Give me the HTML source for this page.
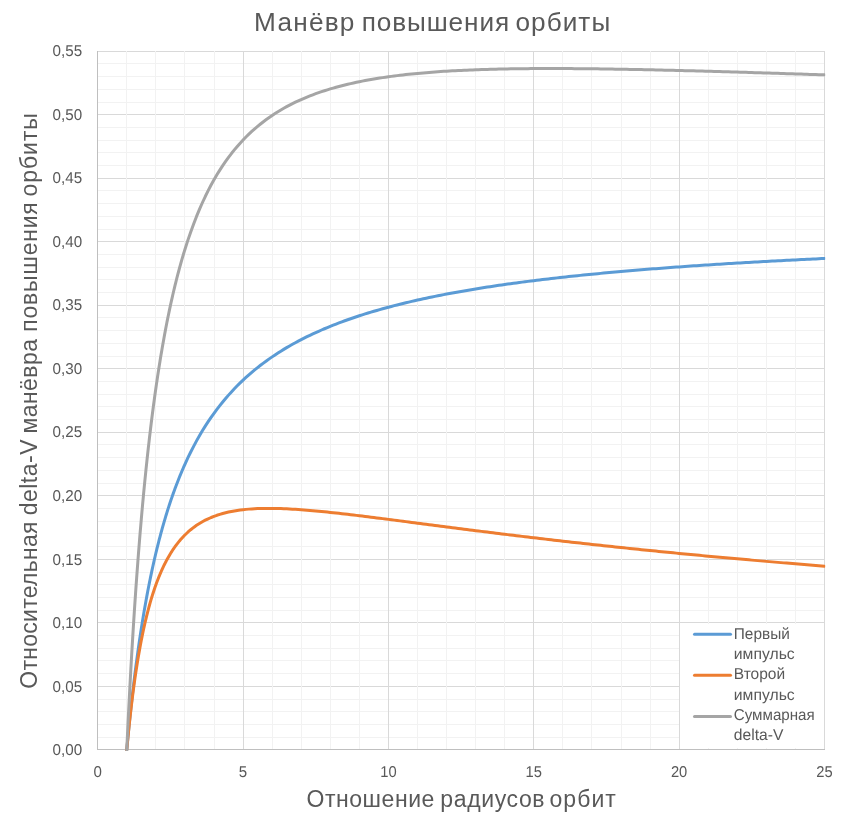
<!DOCTYPE html>
<html><head><meta charset="utf-8"><title>chart</title>
<style>
html,body{margin:0;padding:0;background:#fff;}
body{width:848px;height:816px;overflow:hidden;}
svg{display:block;}
svg{will-change:transform;}
text{font-family:"Liberation Sans",sans-serif;fill:#595959;}
.tick text{font-size:15.7px;text-rendering:geometricPrecision;}
.leg text{font-size:15.8px;text-rendering:geometricPrecision;}
.ser{fill:none;stroke-width:3;stroke-linecap:round;stroke-linejoin:round;}
</style></head><body>
<svg width="848" height="816" viewBox="0 0 848 816">
<rect width="848" height="816" fill="#ffffff"/>
<g fill="none" stroke-width="1" shape-rendering="crispEdges"><path d="M97.0,737.5H825.0M97.0,724.5H825.0M97.0,711.5H825.0M97.0,699.5H825.0M97.0,673.5H825.0M97.0,660.5H825.0M97.0,648.5H825.0M97.0,635.5H825.0M97.0,610.5H825.0M97.0,597.5H825.0M97.0,584.5H825.0M97.0,572.5H825.0M97.0,546.5H825.0M97.0,533.5H825.0M97.0,521.5H825.0M97.0,508.5H825.0M97.0,483.5H825.0M97.0,470.5H825.0M97.0,457.5H825.0M97.0,444.5H825.0M97.0,419.5H825.0M97.0,406.5H825.0M97.0,394.5H825.0M97.0,381.5H825.0M97.0,356.5H825.0M97.0,343.5H825.0M97.0,330.5H825.0M97.0,317.5H825.0M97.0,292.5H825.0M97.0,279.5H825.0M97.0,267.5H825.0M97.0,254.5H825.0M97.0,229.5H825.0M97.0,216.5H825.0M97.0,203.5H825.0M97.0,190.5H825.0M97.0,165.5H825.0M97.0,152.5H825.0M97.0,140.5H825.0M97.0,127.5H825.0M97.0,102.5H825.0M97.0,89.5H825.0M97.0,76.5H825.0M97.0,63.5H825.0" stroke="#f2f2f2"/><path d="M97.0,749.5H825.0M97.0,686.5H825.0M97.0,622.5H825.0M97.0,559.5H825.0M97.0,495.5H825.0M97.0,432.5H825.0M97.0,368.5H825.0M97.0,305.5H825.0M97.0,241.5H825.0M97.0,178.5H825.0M97.0,114.5H825.0M97.0,51.5H825.0" stroke="#d9d9d9"/><path d="M97.5,51.0V750.0M243.5,51.0V750.0M388.5,51.0V750.0M533.5,51.0V750.0M679.5,51.0V750.0M824.5,51.0V750.0" stroke="#d9d9d9"/><path d="M126.5,51.0V750.0M155.5,51.0V750.0M184.5,51.0V750.0M214.5,51.0V750.0M272.5,51.0V750.0M301.5,51.0V750.0M330.5,51.0V750.0M359.5,51.0V750.0M417.5,51.0V750.0M446.5,51.0V750.0M475.5,51.0V750.0M504.5,51.0V750.0M562.5,51.0V750.0M591.5,51.0V750.0M621.5,51.0V750.0M650.5,51.0V750.0M708.5,51.0V750.0M737.5,51.0V750.0M766.5,51.0V750.0M795.5,51.0V750.0" stroke="#f2f2f2"/><path d="M97.5,51.0V750.0" stroke="#bfbfbf"/><path d="M97.0,749.5H825.0" stroke="#bfbfbf"/></g>
<rect x="680" y="624" width="144" height="124" fill="#ffffff" shape-rendering="crispEdges"/>
<clipPath id="pc"><rect x="96" y="49" width="729.2" height="702"/></clipPath>
<g clip-path="url(#pc)">
<path class="ser" stroke="#5b9bd5" d="M126.77,749.81 L127.35,743.54 L127.93,737.42 L128.52,731.44 L129.10,725.61 L129.68,719.91 L130.26,714.35 L130.84,708.91 L131.42,703.60 L132.00,698.40 L132.59,693.32 L133.17,688.35 L133.75,683.48 L134.33,678.72 L134.91,674.06 L135.49,669.50 L136.07,665.03 L136.66,660.65 L137.24,656.35 L137.82,652.15 L138.40,648.02 L138.98,643.98 L139.56,640.01 L140.14,636.12 L140.73,632.30 L141.31,628.56 L141.89,624.88 L142.47,621.27 L143.05,617.73 L143.63,614.25 L144.21,610.83 L144.80,607.47 L145.38,604.17 L145.96,600.93 L146.54,597.74 L147.12,594.61 L147.70,591.53 L148.28,588.50 L148.87,585.52 L149.45,582.59 L150.03,579.71 L150.61,576.88 L151.19,574.09 L151.77,571.34 L152.35,568.64 L152.94,565.98 L153.52,563.36 L154.10,560.78 L154.68,558.24 L155.26,555.74 L155.84,553.28 L156.42,550.85 L157.01,548.46 L157.59,546.11 L158.17,543.78 L158.75,541.50 L159.33,539.24 L159.91,537.02 L160.49,534.83 L161.08,532.66 L161.66,530.53 L162.24,528.43 L162.82,526.36 L163.40,524.32 L163.98,522.30 L164.56,520.31 L165.15,518.35 L165.73,516.41 L166.31,514.50 L166.89,512.61 L167.47,510.75 L168.05,508.91 L168.63,507.10 L169.22,505.31 L169.80,503.54 L170.38,501.79 L170.96,500.07 L171.54,498.36 L172.12,496.68 L172.70,495.02 L173.29,493.38 L173.87,491.76 L174.45,490.16 L175.03,488.57 L175.61,487.01 L176.19,485.46 L176.77,483.94 L177.36,482.43 L177.94,480.94 L178.52,479.46 L179.10,478.00 L179.68,476.56 L180.26,475.14 L180.84,473.73 L181.43,472.34 L182.01,470.96 L182.59,469.60 L183.17,468.25 L183.75,466.92 L184.33,465.60 L184.91,464.29 L187.82,457.98 L190.73,451.99 L193.64,446.31 L196.54,440.90 L199.45,435.74 L202.36,430.83 L205.26,426.14 L208.17,421.66 L211.08,417.37 L213.99,413.27 L216.89,409.33 L219.80,405.56 L222.71,401.94 L225.61,398.46 L228.52,395.11 L231.43,391.89 L234.34,388.79 L237.24,385.80 L240.15,382.91 L243.06,380.13 L245.96,377.44 L248.87,374.85 L251.78,372.34 L254.69,369.91 L257.59,367.56 L260.50,365.29 L263.41,363.08 L266.31,360.95 L269.22,358.88 L272.13,356.87 L275.04,354.91 L277.94,353.02 L280.85,351.18 L283.76,349.39 L286.66,347.65 L289.57,345.96 L292.48,344.31 L295.39,342.71 L298.29,341.15 L301.20,339.63 L304.11,338.15 L307.01,336.70 L309.92,335.30 L312.83,333.92 L315.74,332.58 L318.64,331.27 L321.55,330.00 L324.46,328.75 L327.36,327.53 L330.27,326.34 L333.18,325.18 L336.09,324.04 L338.99,322.93 L341.90,321.84 L344.81,320.78 L347.71,319.74 L350.62,318.72 L353.53,317.72 L356.44,316.75 L359.34,315.79 L362.25,314.85 L365.16,313.93 L368.06,313.03 L370.97,312.15 L373.88,311.29 L376.79,310.44 L379.69,309.61 L382.60,308.79 L385.51,307.99 L388.41,307.20 L391.32,306.43 L394.23,305.67 L397.14,304.93 L400.04,304.20 L402.95,303.48 L405.86,302.78 L408.76,302.09 L411.67,301.41 L414.58,300.74 L417.49,300.08 L420.39,299.43 L423.30,298.80 L426.21,298.17 L429.11,297.56 L432.02,296.96 L434.93,296.36 L437.84,295.78 L440.74,295.20 L443.65,294.63 L446.56,294.08 L449.46,293.53 L452.37,292.99 L455.28,292.45 L458.19,291.93 L461.09,291.41 L464.00,290.91 L466.91,290.41 L469.81,289.91 L472.72,289.43 L475.63,288.95 L478.54,288.47 L481.44,288.01 L484.35,287.55 L487.26,287.10 L490.16,286.65 L493.07,286.21 L495.98,285.78 L498.89,285.35 L501.79,284.93 L504.70,284.51 L507.61,284.10 L510.51,283.70 L513.42,283.30 L516.33,282.90 L519.24,282.51 L522.14,282.13 L525.05,281.75 L527.96,281.38 L530.86,281.01 L533.77,280.64 L536.68,280.28 L539.59,279.93 L542.49,279.58 L545.40,279.23 L548.31,278.89 L551.21,278.55 L554.12,278.21 L557.03,277.88 L559.94,277.56 L562.84,277.24 L565.75,276.92 L568.66,276.60 L571.56,276.29 L574.47,275.98 L577.38,275.68 L580.29,275.38 L583.19,275.08 L586.10,274.79 L589.01,274.50 L591.91,274.21 L594.82,273.93 L597.73,273.65 L600.64,273.37 L603.54,273.10 L606.45,272.82 L609.36,272.56 L612.26,272.29 L615.17,272.03 L618.08,271.77 L620.99,271.51 L623.89,271.26 L626.80,271.01 L629.71,270.76 L632.61,270.51 L635.52,270.27 L638.43,270.03 L641.34,269.79 L644.24,269.55 L647.15,269.32 L650.06,269.08 L652.96,268.86 L655.87,268.63 L658.78,268.40 L661.69,268.18 L664.59,267.96 L667.50,267.74 L670.41,267.53 L673.31,267.31 L676.22,267.10 L679.13,266.89 L682.04,266.68 L684.94,266.48 L687.85,266.27 L690.76,266.07 L693.66,265.87 L696.57,265.67 L699.48,265.48 L702.39,265.28 L705.29,265.09 L708.20,264.90 L711.11,264.71 L714.01,264.52 L716.92,264.34 L719.83,264.15 L722.74,263.97 L725.64,263.79 L728.55,263.61 L731.46,263.43 L734.36,263.26 L737.27,263.08 L740.18,262.91 L743.09,262.74 L745.99,262.57 L748.90,262.40 L751.81,262.23 L754.71,262.07 L757.62,261.90 L760.53,261.74 L763.44,261.58 L766.34,261.42 L769.25,261.26 L772.16,261.10 L775.06,260.95 L777.97,260.79 L780.88,260.64 L783.79,260.49 L786.69,260.34 L789.60,260.19 L792.51,260.04 L795.41,259.89 L798.32,259.75 L801.23,259.60 L804.14,259.46 L807.04,259.31 L809.95,259.17 L812.86,259.03 L815.76,258.89 L818.67,258.76 L821.58,258.62 L824.49,258.48"/>
<path class="ser" stroke="#ed7d31" d="M126.77,749.81 L127.35,743.57 L127.93,737.54 L128.52,731.71 L129.10,726.07 L129.68,720.62 L130.26,715.34 L130.84,710.23 L131.42,705.28 L132.00,700.49 L132.59,695.84 L133.17,691.33 L133.75,686.96 L134.33,682.72 L134.91,678.60 L135.49,674.61 L136.07,670.72 L136.66,666.95 L137.24,663.29 L137.82,659.72 L138.40,656.26 L138.98,652.89 L139.56,649.62 L140.14,646.43 L140.73,643.32 L141.31,640.30 L141.89,637.36 L142.47,634.49 L143.05,631.70 L143.63,628.98 L144.21,626.33 L144.80,623.75 L145.38,621.23 L145.96,618.78 L146.54,616.38 L147.12,614.05 L147.70,611.77 L148.28,609.54 L148.87,607.37 L149.45,605.25 L150.03,603.19 L150.61,601.17 L151.19,599.20 L151.77,597.27 L152.35,595.39 L152.94,593.55 L153.52,591.75 L154.10,590.00 L154.68,588.28 L155.26,586.61 L155.84,584.97 L156.42,583.36 L157.01,581.80 L157.59,580.27 L158.17,578.77 L158.75,577.30 L159.33,575.87 L159.91,574.46 L160.49,573.09 L161.08,571.75 L161.66,570.43 L162.24,569.15 L162.82,567.89 L163.40,566.65 L163.98,565.45 L164.56,564.26 L165.15,563.11 L165.73,561.97 L166.31,560.86 L166.89,559.78 L167.47,558.71 L168.05,557.67 L168.63,556.65 L169.22,555.65 L169.80,554.67 L170.38,553.71 L170.96,552.76 L171.54,551.84 L172.12,550.94 L172.70,550.05 L173.29,549.18 L173.87,548.33 L174.45,547.50 L175.03,546.68 L175.61,545.88 L176.19,545.09 L176.77,544.32 L177.36,543.57 L177.94,542.83 L178.52,542.10 L179.10,541.39 L179.68,540.69 L180.26,540.01 L180.84,539.33 L181.43,538.68 L182.01,538.03 L182.59,537.40 L183.17,536.78 L183.75,536.17 L184.33,535.57 L184.91,534.98 L187.82,532.22 L190.73,529.70 L193.64,527.42 L196.54,525.34 L199.45,523.46 L202.36,521.74 L205.26,520.19 L208.17,518.78 L211.08,517.50 L213.99,516.35 L216.89,515.30 L219.80,514.36 L222.71,513.51 L225.61,512.75 L228.52,512.07 L231.43,511.47 L234.34,510.93 L237.24,510.46 L240.15,510.04 L243.06,509.69 L245.96,509.38 L248.87,509.12 L251.78,508.90 L254.69,508.73 L257.59,508.59 L260.50,508.49 L263.41,508.42 L266.31,508.38 L269.22,508.38 L272.13,508.40 L275.04,508.44 L277.94,508.51 L280.85,508.60 L283.76,508.71 L286.66,508.83 L289.57,508.98 L292.48,509.15 L295.39,509.33 L298.29,509.52 L301.20,509.73 L304.11,509.95 L307.01,510.18 L309.92,510.42 L312.83,510.68 L315.74,510.94 L318.64,511.22 L321.55,511.50 L324.46,511.79 L327.36,512.08 L330.27,512.39 L333.18,512.70 L336.09,513.02 L338.99,513.34 L341.90,513.67 L344.81,514.00 L347.71,514.34 L350.62,514.68 L353.53,515.02 L356.44,515.37 L359.34,515.72 L362.25,516.08 L365.16,516.44 L368.06,516.80 L370.97,517.16 L373.88,517.52 L376.79,517.89 L379.69,518.26 L382.60,518.63 L385.51,519.00 L388.41,519.37 L391.32,519.75 L394.23,520.12 L397.14,520.50 L400.04,520.88 L402.95,521.25 L405.86,521.63 L408.76,522.01 L411.67,522.39 L414.58,522.77 L417.49,523.15 L420.39,523.52 L423.30,523.90 L426.21,524.28 L429.11,524.66 L432.02,525.04 L434.93,525.42 L437.84,525.79 L440.74,526.17 L443.65,526.55 L446.56,526.92 L449.46,527.30 L452.37,527.67 L455.28,528.04 L458.19,528.42 L461.09,528.79 L464.00,529.16 L466.91,529.53 L469.81,529.90 L472.72,530.27 L475.63,530.64 L478.54,531.01 L481.44,531.37 L484.35,531.74 L487.26,532.10 L490.16,532.46 L493.07,532.82 L495.98,533.18 L498.89,533.54 L501.79,533.90 L504.70,534.26 L507.61,534.62 L510.51,534.97 L513.42,535.32 L516.33,535.68 L519.24,536.03 L522.14,536.38 L525.05,536.73 L527.96,537.07 L530.86,537.42 L533.77,537.77 L536.68,538.11 L539.59,538.45 L542.49,538.79 L545.40,539.13 L548.31,539.47 L551.21,539.81 L554.12,540.15 L557.03,540.48 L559.94,540.81 L562.84,541.15 L565.75,541.48 L568.66,541.81 L571.56,542.14 L574.47,542.46 L577.38,542.79 L580.29,543.11 L583.19,543.44 L586.10,543.76 L589.01,544.08 L591.91,544.40 L594.82,544.72 L597.73,545.03 L600.64,545.35 L603.54,545.66 L606.45,545.98 L609.36,546.29 L612.26,546.60 L615.17,546.91 L618.08,547.22 L620.99,547.52 L623.89,547.83 L626.80,548.13 L629.71,548.44 L632.61,548.74 L635.52,549.04 L638.43,549.34 L641.34,549.64 L644.24,549.93 L647.15,550.23 L650.06,550.52 L652.96,550.82 L655.87,551.11 L658.78,551.40 L661.69,551.69 L664.59,551.98 L667.50,552.27 L670.41,552.55 L673.31,552.84 L676.22,553.12 L679.13,553.41 L682.04,553.69 L684.94,553.97 L687.85,554.25 L690.76,554.53 L693.66,554.80 L696.57,555.08 L699.48,555.35 L702.39,555.63 L705.29,555.90 L708.20,556.17 L711.11,556.44 L714.01,556.71 L716.92,556.98 L719.83,557.25 L722.74,557.51 L725.64,557.78 L728.55,558.04 L731.46,558.31 L734.36,558.57 L737.27,558.83 L740.18,559.09 L743.09,559.35 L745.99,559.61 L748.90,559.86 L751.81,560.12 L754.71,560.37 L757.62,560.63 L760.53,560.88 L763.44,561.13 L766.34,561.38 L769.25,561.63 L772.16,561.88 L775.06,562.13 L777.97,562.38 L780.88,562.62 L783.79,562.87 L786.69,563.11 L789.60,563.35 L792.51,563.60 L795.41,563.84 L798.32,564.08 L801.23,564.32 L804.14,564.56 L807.04,564.79 L809.95,565.03 L812.86,565.27 L815.76,565.50 L818.67,565.73 L821.58,565.97 L824.49,566.20"/>
<path class="ser" stroke="#a5a5a5" d="M126.77,749.81 L127.35,737.29 L127.93,725.14 L128.52,713.34 L129.10,701.87 L129.68,690.72 L130.26,679.88 L130.84,669.33 L131.42,659.07 L132.00,649.08 L132.59,639.35 L133.17,629.87 L133.75,620.64 L134.33,611.63 L134.91,602.85 L135.49,594.29 L136.07,585.94 L136.66,577.79 L137.24,569.83 L137.82,562.06 L138.40,554.47 L138.98,547.06 L139.56,539.82 L140.14,532.74 L140.73,525.82 L141.31,519.05 L141.89,512.43 L142.47,505.96 L143.05,499.62 L143.63,493.42 L144.21,487.35 L144.80,481.41 L145.38,475.59 L145.96,469.90 L146.54,464.31 L147.12,458.85 L147.70,453.49 L148.28,448.23 L148.87,443.09 L149.45,438.04 L150.03,433.09 L150.61,428.23 L151.19,423.47 L151.77,418.80 L152.35,414.22 L152.94,409.72 L153.52,405.30 L154.10,400.97 L154.68,396.72 L155.26,392.54 L155.84,388.44 L156.42,384.41 L157.01,380.45 L157.59,376.56 L158.17,372.74 L158.75,368.99 L159.33,365.30 L159.91,361.67 L160.49,358.11 L161.08,354.60 L161.66,351.16 L162.24,347.77 L162.82,344.44 L163.40,341.16 L163.98,337.93 L164.56,334.76 L165.15,331.64 L165.73,328.57 L166.31,325.55 L166.89,322.58 L167.47,319.65 L168.05,316.77 L168.63,313.94 L169.22,311.14 L169.80,308.39 L170.38,305.69 L170.96,303.02 L171.54,300.40 L172.12,297.81 L172.70,295.26 L173.29,292.75 L173.87,290.28 L174.45,287.84 L175.03,285.44 L175.61,283.08 L176.19,280.75 L176.77,278.45 L177.36,276.19 L177.94,273.95 L178.52,271.75 L179.10,269.58 L179.68,267.44 L180.26,265.33 L180.84,263.25 L181.43,261.20 L182.01,259.18 L182.59,257.18 L183.17,255.21 L183.75,253.27 L184.33,251.36 L184.91,249.47 L187.82,240.39 L190.73,231.89 L193.64,223.91 L196.54,216.43 L199.45,209.39 L202.36,202.76 L205.26,196.52 L208.17,190.63 L211.08,185.06 L213.99,179.80 L216.89,174.82 L219.80,170.11 L222.71,165.64 L225.61,161.40 L228.52,157.37 L231.43,153.54 L234.34,149.91 L237.24,146.44 L240.15,143.15 L243.06,140.01 L245.96,137.01 L248.87,134.16 L251.78,131.43 L254.69,128.83 L257.59,126.34 L260.50,123.97 L263.41,121.70 L266.31,119.52 L269.22,117.44 L272.13,115.45 L275.04,113.54 L277.94,111.72 L280.85,109.97 L283.76,108.29 L286.66,106.68 L289.57,105.13 L292.48,103.65 L295.39,102.22 L298.29,100.86 L301.20,99.55 L304.11,98.29 L307.01,97.07 L309.92,95.91 L312.83,94.79 L315.74,93.71 L318.64,92.68 L321.55,91.69 L324.46,90.73 L327.36,89.81 L330.27,88.92 L333.18,88.07 L336.09,87.25 L338.99,86.46 L341.90,85.70 L344.81,84.97 L347.71,84.27 L350.62,83.59 L353.53,82.94 L356.44,82.31 L359.34,81.70 L362.25,81.12 L365.16,80.56 L368.06,80.02 L370.97,79.50 L373.88,79.00 L376.79,78.52 L379.69,78.06 L382.60,77.61 L385.51,77.18 L388.41,76.77 L391.32,76.37 L394.23,75.99 L397.14,75.62 L400.04,75.27 L402.95,74.93 L405.86,74.60 L408.76,74.29 L411.67,73.98 L414.58,73.69 L417.49,73.42 L420.39,73.15 L423.30,72.89 L426.21,72.65 L429.11,72.41 L432.02,72.18 L434.93,71.97 L437.84,71.76 L440.74,71.56 L443.65,71.37 L446.56,71.19 L449.46,71.01 L452.37,70.85 L455.28,70.69 L458.19,70.54 L461.09,70.39 L464.00,70.26 L466.91,70.13 L469.81,70.00 L472.72,69.89 L475.63,69.78 L478.54,69.67 L481.44,69.57 L484.35,69.48 L487.26,69.39 L490.16,69.30 L493.07,69.23 L495.98,69.15 L498.89,69.09 L501.79,69.02 L504.70,68.96 L507.61,68.91 L510.51,68.86 L513.42,68.81 L516.33,68.77 L519.24,68.73 L522.14,68.70 L525.05,68.67 L527.96,68.64 L530.86,68.62 L533.77,68.60 L536.68,68.58 L539.59,68.57 L542.49,68.56 L545.40,68.55 L548.31,68.55 L551.21,68.55 L554.12,68.55 L557.03,68.55 L559.94,68.56 L562.84,68.57 L565.75,68.58 L568.66,68.60 L571.56,68.62 L574.47,68.64 L577.38,68.66 L580.29,68.68 L583.19,68.71 L586.10,68.74 L589.01,68.77 L591.91,68.80 L594.82,68.84 L597.73,68.87 L600.64,68.91 L603.54,68.95 L606.45,68.99 L609.36,69.04 L612.26,69.08 L615.17,69.13 L618.08,69.18 L620.99,69.23 L623.89,69.28 L626.80,69.33 L629.71,69.38 L632.61,69.44 L635.52,69.50 L638.43,69.55 L641.34,69.61 L644.24,69.67 L647.15,69.74 L650.06,69.80 L652.96,69.86 L655.87,69.93 L658.78,70.00 L661.69,70.06 L664.59,70.13 L667.50,70.20 L670.41,70.27 L673.31,70.34 L676.22,70.41 L679.13,70.49 L682.04,70.56 L684.94,70.64 L687.85,70.71 L690.76,70.79 L693.66,70.87 L696.57,70.94 L699.48,71.02 L702.39,71.10 L705.29,71.18 L708.20,71.26 L711.11,71.34 L714.01,71.43 L716.92,71.51 L719.83,71.59 L722.74,71.68 L725.64,71.76 L728.55,71.85 L731.46,71.93 L734.36,72.02 L737.27,72.10 L740.18,72.19 L743.09,72.28 L745.99,72.37 L748.90,72.45 L751.81,72.54 L754.71,72.63 L757.62,72.72 L760.53,72.81 L763.44,72.90 L766.34,72.99 L769.25,73.08 L772.16,73.18 L775.06,73.27 L777.97,73.36 L780.88,73.45 L783.79,73.55 L786.69,73.64 L789.60,73.73 L792.51,73.83 L795.41,73.92 L798.32,74.01 L801.23,74.11 L804.14,74.20 L807.04,74.30 L809.95,74.39 L812.86,74.49 L815.76,74.58 L818.67,74.68 L821.58,74.78 L824.49,74.87"/>
</g>
<g class="tick"><text x="82.2" y="755.20" text-anchor="end" textLength="29.6" lengthAdjust="spacingAndGlyphs">0,00</text><text x="82.2" y="691.65" text-anchor="end" textLength="29.6" lengthAdjust="spacingAndGlyphs">0,05</text><text x="82.2" y="628.11" text-anchor="end" textLength="29.6" lengthAdjust="spacingAndGlyphs">0,10</text><text x="82.2" y="564.56" text-anchor="end" textLength="29.6" lengthAdjust="spacingAndGlyphs">0,15</text><text x="82.2" y="501.01" text-anchor="end" textLength="29.6" lengthAdjust="spacingAndGlyphs">0,20</text><text x="82.2" y="437.47" text-anchor="end" textLength="29.6" lengthAdjust="spacingAndGlyphs">0,25</text><text x="82.2" y="373.93" text-anchor="end" textLength="29.6" lengthAdjust="spacingAndGlyphs">0,30</text><text x="82.2" y="310.38" text-anchor="end" textLength="29.6" lengthAdjust="spacingAndGlyphs">0,35</text><text x="82.2" y="246.83" text-anchor="end" textLength="29.6" lengthAdjust="spacingAndGlyphs">0,40</text><text x="82.2" y="183.29" text-anchor="end" textLength="29.6" lengthAdjust="spacingAndGlyphs">0,45</text><text x="82.2" y="119.75" text-anchor="end" textLength="29.6" lengthAdjust="spacingAndGlyphs">0,50</text><text x="82.2" y="56.20" text-anchor="end" textLength="29.6" lengthAdjust="spacingAndGlyphs">0,55</text><text x="97.70" y="776.8" text-anchor="middle" textLength="8.4" lengthAdjust="spacingAndGlyphs">0</text><text x="243.06" y="776.8" text-anchor="middle" textLength="8.4" lengthAdjust="spacingAndGlyphs">5</text><text x="388.41" y="776.8" text-anchor="middle" textLength="16.4" lengthAdjust="spacingAndGlyphs">10</text><text x="533.77" y="776.8" text-anchor="middle" textLength="16.4" lengthAdjust="spacingAndGlyphs">15</text><text x="679.13" y="776.8" text-anchor="middle" textLength="16.4" lengthAdjust="spacingAndGlyphs">20</text><text x="824.49" y="776.8" text-anchor="middle" textLength="16.4" lengthAdjust="spacingAndGlyphs">25</text></g>
<g class="leg">
<line x1="694.5" x2="730.5" y1="634.3" y2="634.3" stroke="#5b9bd5" stroke-width="3" stroke-linecap="round"/>
<line x1="694.5" x2="730.5" y1="675.3" y2="675.3" stroke="#ed7d31" stroke-width="3" stroke-linecap="round"/>
<line x1="694.5" x2="730.5" y1="716.5" y2="716.5" stroke="#a5a5a5" stroke-width="3" stroke-linecap="round"/>
<text x="733.8" y="638.9" textLength="56.0" lengthAdjust="spacingAndGlyphs">Первый</text>
<text x="733.8" y="658.9" textLength="60.9" lengthAdjust="spacingAndGlyphs">импульс</text>
<text x="733.8" y="679.3" textLength="51.3" lengthAdjust="spacingAndGlyphs">Второй</text>
<text x="733.8" y="699.7" textLength="60.9" lengthAdjust="spacingAndGlyphs">импульс</text>
<text x="733.8" y="720.3" textLength="80.9" lengthAdjust="spacingAndGlyphs">Суммарная</text>
<text x="733.8" y="740.4" textLength="49.6" lengthAdjust="spacingAndGlyphs">delta-V</text>
</g>
<text x="254.10" y="30.75" font-size="26.2" letter-spacing="1.220">Манёвр</text>
<text x="361.65" y="30.75" font-size="26.2" letter-spacing="0.894">повышения</text>
<text x="515.45" y="30.75" font-size="26.2" letter-spacing="1.040">орбиты</text>
<text x="306.45" y="806.90" font-size="23" letter-spacing="0.556">Отношение</text>
<text x="440.30" y="806.90" font-size="23" letter-spacing="0.629">радиусов</text>
<text x="549.45" y="806.90" font-size="23" letter-spacing="1.063">орбит</text>
<text transform="translate(36.70,688.75) rotate(-90)" font-size="23" letter-spacing="0.275">Относительная</text>
<text transform="translate(36.70,515.35) rotate(-90)" font-size="23" letter-spacing="0.500">delta-V</text>
<text transform="translate(36.70,433.50) rotate(-90)" font-size="23" letter-spacing="0.425">манёвра</text>
<text transform="translate(36.70,331.70) rotate(-90)" font-size="23" letter-spacing="0.781">повышения</text>
<text transform="translate(36.70,196.55) rotate(-90)" font-size="23" letter-spacing="0.950">орбиты</text>
</svg>
</body></html>
